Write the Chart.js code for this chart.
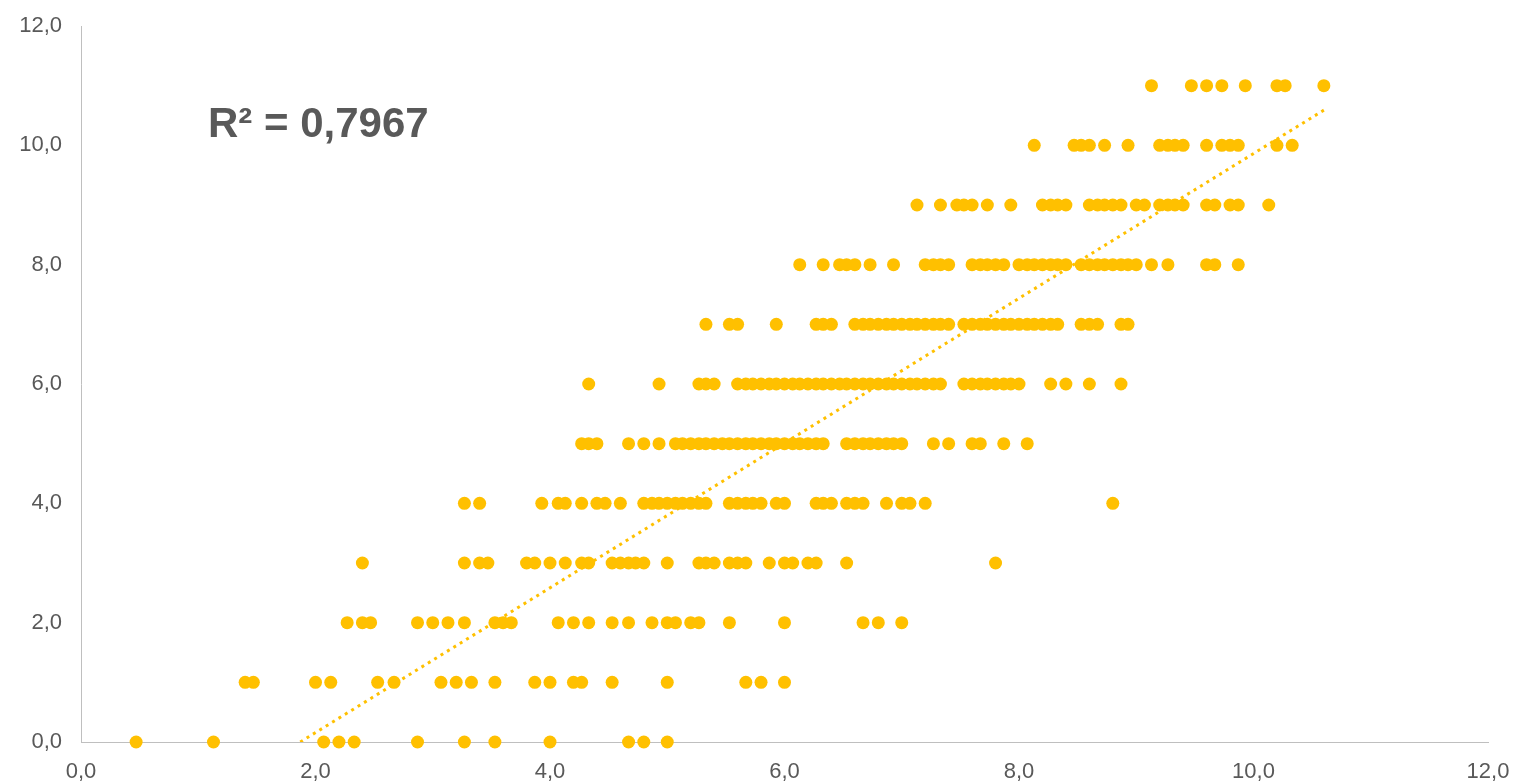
<!DOCTYPE html>
<html>
<head>
<meta charset="utf-8">
<script src="https://cdn.jsdelivr.net/npm/chart.js@4"></script>
<style>
  html, body { margin: 0; padding: 0; background: #fff; }
  #wrap { width: 1516px; height: 784px; }
</style>
</head>
<body>
<div id="wrap"><canvas id="chart" width="1516" height="784"></canvas></div>
<script>
// x values of the points, one list per y level
const row0 = [0.47, 1.13, 2.07, 2.2, 2.33, 2.87, 3.27, 3.53, 4.0, 4.67, 4.8, 5.0];
const row1 = [1.4, 1.47, 2.0, 2.13, 2.53, 2.67, 3.07, 3.2, 3.33, 3.53, 3.87, 4.0, 4.2, 4.27, 4.53, 5.0, 5.67, 5.8, 6.0];
const row2 = [2.27, 2.4, 2.47, 2.87, 3.0, 3.13, 3.27, 3.53, 3.6, 3.67, 4.07, 4.2, 4.33, 4.53, 4.67, 4.87, 5.0, 5.07, 5.2, 5.27, 5.53, 6.0, 6.67, 6.8, 7.0];
const row3 = [2.4, 3.27, 3.4, 3.47, 3.8, 3.87, 4.0, 4.13, 4.27, 4.33, 4.53, 4.6, 4.67, 4.73, 4.8, 5.0, 5.27, 5.33, 5.4, 5.53, 5.6, 5.67, 5.87, 6.0, 6.07, 6.2, 6.27, 6.53, 7.8];
const row4 = [3.27, 3.4, 3.93, 4.07, 4.13, 4.27, 4.4, 4.47, 4.6, 4.8, 4.87, 4.93, 5.0, 5.07, 5.13, 5.2, 5.27, 5.33, 5.53, 5.6, 5.67, 5.73, 5.8, 5.93, 6.0, 6.27, 6.33, 6.4, 6.53, 6.6, 6.67, 6.87, 7.0, 7.07, 7.2, 8.8];
const row5 = [4.27, 4.33, 4.4, 4.67, 4.8, 4.93, 5.07, 5.13, 5.2, 5.27, 5.33, 5.4, 5.47, 5.53, 5.6, 5.67, 5.73, 5.8, 5.87, 5.93, 6.0, 6.07, 6.13, 6.2, 6.27, 6.33, 6.53, 6.6, 6.67, 6.73, 6.8, 6.87, 6.93, 7.0, 7.27, 7.4, 7.6, 7.67, 7.87, 8.07];
const row6 = [4.33, 4.93, 5.27, 5.33, 5.4, 5.6, 5.67, 5.73, 5.8, 5.87, 5.93, 6.0, 6.07, 6.13, 6.2, 6.27, 6.33, 6.4, 6.47, 6.53, 6.6, 6.67, 6.73, 6.8, 6.87, 6.93, 7.0, 7.07, 7.13, 7.2, 7.27, 7.33, 7.53, 7.6, 7.67, 7.73, 7.8, 7.87, 7.93, 8.0, 8.27, 8.4, 8.6, 8.87];
const row7 = [5.33, 5.53, 5.6, 5.93, 6.27, 6.33, 6.4, 6.6, 6.67, 6.73, 6.8, 6.87, 6.93, 7.0, 7.07, 7.13, 7.2, 7.27, 7.33, 7.4, 7.53, 7.6, 7.67, 7.73, 7.8, 7.87, 7.93, 8.0, 8.07, 8.13, 8.2, 8.27, 8.33, 8.53, 8.6, 8.67, 8.87, 8.93];
const row8 = [6.13, 6.33, 6.47, 6.53, 6.6, 6.73, 6.93, 7.2, 7.27, 7.33, 7.4, 7.6, 7.67, 7.73, 7.8, 7.87, 8.0, 8.07, 8.13, 8.2, 8.27, 8.33, 8.4, 8.53, 8.6, 8.67, 8.73, 8.8, 8.87, 8.93, 9.0, 9.13, 9.27, 9.6, 9.67, 9.87];
const row9 = [7.13, 7.33, 7.47, 7.53, 7.6, 7.73, 7.93, 8.2, 8.27, 8.33, 8.4, 8.6, 8.67, 8.73, 8.8, 8.87, 9.0, 9.07, 9.2, 9.27, 9.33, 9.4, 9.6, 9.67, 9.8, 9.87, 10.13];
const row10 = [8.13, 8.47, 8.53, 8.6, 8.73, 8.93, 9.2, 9.27, 9.33, 9.4, 9.6, 9.73, 9.8, 9.87, 10.2, 10.33];
const row11 = [9.13, 9.47, 9.6, 9.73, 9.93, 10.2, 10.27, 10.6];
const rows = [row0, row1, row2, row3, row4, row5, row6, row7, row8, row9, row10, row11];

// dotted trend line, ends
const trendX = [1.87, 10.6];
const trendY = [0, 10.59];
const rSquared = '0,7967';

const ticks = [0, 2, 4, 6, 8, 10, 12];

const gold = '#FFC000';
const grey = '#595959';

let points = [];
rows.forEach((xs, y) => {
  xs.forEach(x => points.push({x: x, y: y}));
});

const fmt = v => v.toFixed(1).replace('.', ',');

const r2Label = {
  id: 'r2Label',
  afterDatasetsDraw(chart) {
    const ctx = chart.ctx;
    ctx.save();
    ctx.font = 'bold 42px "Liberation Sans", Arial, sans-serif';
    ctx.fillStyle = grey;
    ctx.textBaseline = 'alphabetic';
    ctx.fillText('R\u00B2 = ' + rSquared, 208, 137);
    ctx.restore();
  }
};

new Chart(document.getElementById('chart'), {
  type: 'scatter',
  data: {
    datasets: [{
      data: points,
      backgroundColor: gold,
      borderColor: gold,
      borderWidth: 0,
      pointRadius: 6.5,
      pointHoverRadius: 6.5,
      clip: false,
      order: 1
    }, {
      type: 'line',
      data: trendX.map((x, i) => ({x: x, y: trendY[i]})),
      borderColor: gold,
      borderWidth: 3,
      borderDash: [3, 4.5],
      pointRadius: 0,
      fill: false,
      order: 0
    }]
  },
  options: {
    responsive: false,
    animation: false,
    devicePixelRatio: 1,
    layout: { padding: { left: 0, right: 28, top: 26, bottom: 0 } },
    plugins: { legend: { display: false }, tooltip: { enabled: false } },
    scales: {
      x: {
        type: 'linear',
        min: 0,
        max: 12,
        afterBuildTicks: s => { s.ticks = ticks.map(v => ({value: v})); },
        afterFit: s => { s.height = 42; s.paddingLeft = 0; s.paddingRight = 0; },
        grid: { display: false, drawTicks: false },
        border: { display: true, color: '#BFBFBF', width: 1 },
        ticks: {
          padding: 17,
          color: grey,
          font: { family: '"Liberation Sans", Arial, sans-serif', size: 22 },
          callback: v => fmt(v)
        }
      },
      y: {
        type: 'linear',
        min: 0,
        max: 12,
        afterBuildTicks: s => { s.ticks = ticks.map(v => ({value: v})); },
        afterFit: s => { s.width = 81; s.paddingTop = 0; s.paddingBottom = 0; },
        grid: { display: false, drawTicks: false },
        border: { display: true, color: '#BFBFBF', width: 1 },
        ticks: {
          padding: 19,
          color: grey,
          font: { family: '"Liberation Sans", Arial, sans-serif', size: 22 },
          callback: v => fmt(v)
        }
      }
    }
  },
  plugins: [r2Label]
});
</script>
</body>
</html>
